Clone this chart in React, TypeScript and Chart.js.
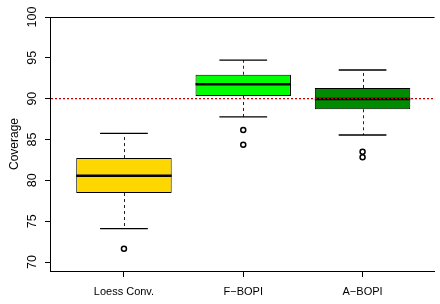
import React, { useEffect, useRef } from "react";
import { Chart, registerables } from "chart.js";

Chart.register(...registerables);

// ---- data ----
const categories = ["Loess Conv.", "F\u2212BOPI", "A\u2212BOPI"];
const positions = [1, 2, 3];
const lowerWhisker = [74.08, 87.76, 85.55];
const q1 = [78.45, 90.33, 88.7];
const median = [80.57, 91.76, 89.96];
const q3 = [82.73, 92.93, 91.31];
const upperWhisker = [85.76, 94.73, 93.51];
const outliers = [[71.63], [86.16, 84.36], [83.5, 82.82]];
const yTicks = [70, 75, 80, 85, 90, 95, 100];
const referenceLevel = 90;
const yTitle = "Coverage";

// ---- styles ----
const boxColors = ["#FFD700", "#00FF00", "#008B00"];
const BOX_WIDTH = 0.8; // in x units
const CAP_WIDTH = 0.4; // in x units
const FONT = "'Liberation Sans', Arial, Helvetica, sans-serif";

const boxExtras = {
  id: "boxExtras",
  afterDatasetsDraw(chart: any) {
    const { ctx, chartArea } = chart;
    const x = chart.scales.x;
    const y = chart.scales.y;
    ctx.save();
    positions.forEach((p, i) => {
      const cx = x.getPixelForValue(p);
      const bl = x.getPixelForValue(p - BOX_WIDTH / 2);
      const br = x.getPixelForValue(p + BOX_WIDTH / 2);
      const cl = x.getPixelForValue(p - CAP_WIDTH / 2);
      const cr = x.getPixelForValue(p + CAP_WIDTH / 2);
      // whiskers (dashed)
      ctx.strokeStyle = "#222";
      ctx.lineWidth = 1;
      ctx.setLineDash([3, 3]);
      ctx.beginPath();
      ctx.moveTo(Math.round(cx) + 0.5, y.getPixelForValue(q3[i]));
      ctx.lineTo(Math.round(cx) + 0.5, y.getPixelForValue(upperWhisker[i]));
      ctx.moveTo(Math.round(cx) + 0.5, y.getPixelForValue(q1[i]));
      ctx.lineTo(Math.round(cx) + 0.5, y.getPixelForValue(lowerWhisker[i]));
      ctx.stroke();
      // caps
      ctx.setLineDash([]);
      ctx.strokeStyle = "#000";
      ctx.lineWidth = 1.3;
      ctx.beginPath();
      ctx.moveTo(cl, y.getPixelForValue(upperWhisker[i]));
      ctx.lineTo(cr, y.getPixelForValue(upperWhisker[i]));
      ctx.moveTo(cl, y.getPixelForValue(lowerWhisker[i]));
      ctx.lineTo(cr, y.getPixelForValue(lowerWhisker[i]));
      ctx.stroke();
      // median
      ctx.lineWidth = 2.5;
      ctx.beginPath();
      ctx.moveTo(bl, y.getPixelForValue(median[i]));
      ctx.lineTo(br, y.getPixelForValue(median[i]));
      ctx.stroke();
    });
    // reference line
    const ry = y.getPixelForValue(referenceLevel);
    ctx.strokeStyle = "#c00000";
    ctx.lineWidth = 1.1;
    ctx.setLineDash([2, 2]);
    ctx.beginPath();
    ctx.moveTo(chartArea.left + 1, ry);
    ctx.lineTo(chartArea.right, ry);
    ctx.stroke();
    // top frame
    ctx.setLineDash([]);
    ctx.strokeStyle = "#000";
    ctx.lineWidth = 1;
    ctx.beginPath();
    ctx.moveTo(chartArea.left, Math.round(chartArea.top) + 0.5);
    ctx.lineTo(chartArea.right, Math.round(chartArea.top) + 0.5);
    ctx.stroke();
    ctx.restore();
  },
};

export default function App() {
  const ref = useRef<HTMLCanvasElement | null>(null);
  useEffect(() => {
    if (!ref.current) return;
    const chart = new Chart(ref.current, {
      type: "bar",
      data: {
        datasets: [
          {
            type: "bar",
            data: positions.map((p, i) => ({ x: p, y: [q1[i], q3[i]] })) as any,
            backgroundColor: boxColors,
            borderColor: "#000",
            borderWidth: 1,
            borderSkipped: false,
            barPercentage: 1,
            categoryPercentage: BOX_WIDTH,
          },
          {
            type: "scatter",
            data: outliers.flatMap((vals, i) => vals.map((v) => ({ x: positions[i], y: v }))),
            pointStyle: "circle",
            pointRadius: 2.5,
            pointBorderWidth: 1.5,
            pointBackgroundColor: "rgba(0,0,0,0)",
            pointBorderColor: "#000",
            showLine: false,
          } as any,
        ],
      },
      options: {
        responsive: false,
        animation: false,
        layout: { padding: { top: 17, left: 0, right: 0, bottom: 0 } },
        plugins: { legend: { display: false }, tooltip: { enabled: false } },
        scales: {
          x: {
            type: "linear",
            offset: false,
            min: 0.3802,
            max: 3.603,
            afterBuildTicks: (s: any) => {
              s.ticks = positions.map((v) => ({ value: v }));
            },
            afterFit: (s: any) => {
              s.height = 33;
            },
            grid: { drawOnChartArea: false, drawTicks: true, tickLength: 6, color: "#000", offset: false },
            border: { display: true, color: "#000", width: 1 },
            ticks: {
              autoSkip: false,
              maxRotation: 0,
              padding: 8,
              color: "#000",
              font: { family: FONT, size: 11 },
              callback: (v: any) => categories[positions.indexOf(Number(v))] ?? "",
            },
          },
          y: {
            type: "linear",
            min: 68.9,
            max: 100,
            afterBuildTicks: (s: any) => {
              s.ticks = yTicks.map((v) => ({ value: v }));
            },
            afterFit: (s: any) => {
              s.width = 50;
            },
            grid: { drawOnChartArea: false, drawTicks: true, tickLength: 5, color: "#000" },
            border: { display: true, color: "#000", width: 1 },
            ticks: {
              autoSkip: false,
              minRotation: 90,
              maxRotation: 90,
              crossAlign: "center",
              padding: 2,
              color: "#000",
              font: { family: FONT, size: 12.5 },
            },
            title: {
              display: true,
              text: yTitle,
              color: "#000",
              font: { family: FONT, size: 12 },
              padding: { top: 7, bottom: 0 },
            },
          },
        },
      },
      plugins: [boxExtras],
    } as any);
    return () => chart.destroy();
  }, []);
  return (
    <div style={{ position: "fixed", left: 0, top: 0, width: 440, height: 304, background: "#fff" }}>
      <canvas ref={ref} width={440} height={304} style={{ display: "block" }} />
    </div>
  );
}
